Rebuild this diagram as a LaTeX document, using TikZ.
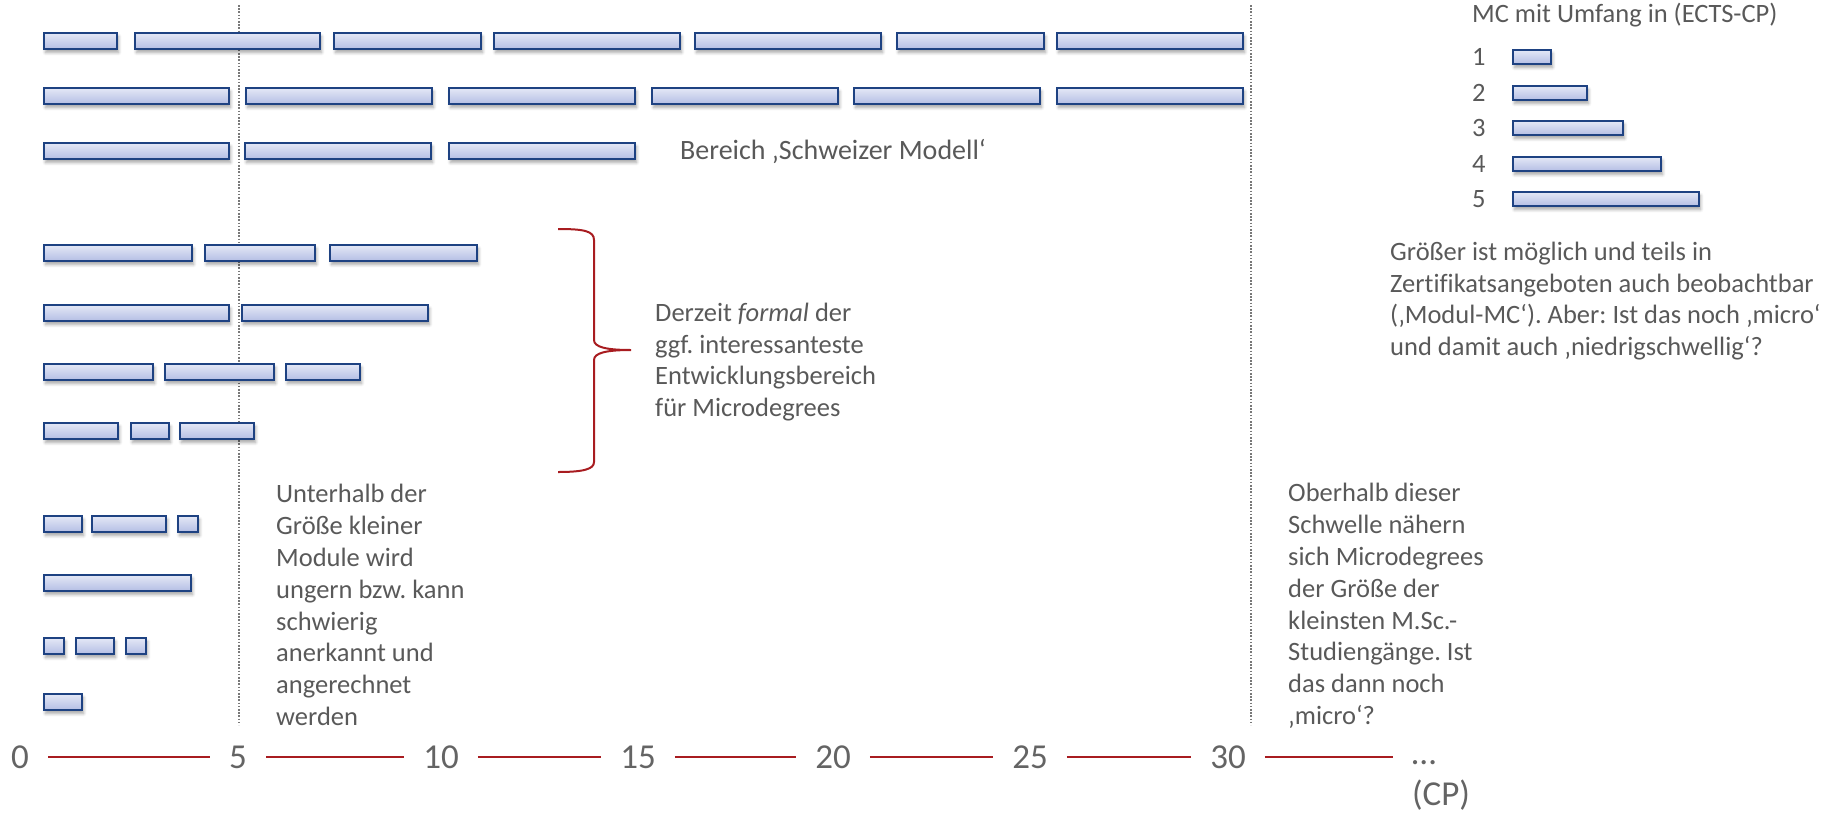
\documentclass[tikz,border=0pt]{standalone}
\usepackage{fontspec}
\setmainfont{Carlito}[Ligatures={TeX,NoCommon}]
\usetikzlibrary{shadows.blur}
\frenchspacing
\definecolor{txtgray}{RGB}{89,89,89}
\definecolor{axgray}{RGB}{100,100,100}
\definecolor{barline}{RGB}{30,66,130}
\definecolor{bartop}{RGB}{228,232,246}
\definecolor{barbot}{RGB}{180,190,228}
\definecolor{bracered}{RGB}{168,28,32}
\definecolor{dotgray}{RGB}{120,120,120}
\tikzset{
  mcbar/.style={draw=barline, line width=1.8pt, top color=bartop, bottom color=barbot, inner sep=0pt,
    blur shadow={shadow xshift=1.5pt, shadow yshift=-3.5pt, shadow blur radius=3pt, shadow blur steps=6, shadow opacity=35}},
  txt/.style={text=txtgray, font=\fontsize{26.5}{31.8}\selectfont, inner sep=0pt, align=left},
  axlbl/.style={text=axgray, font=\fontsize{35}{42}\selectfont, inner ysep=0pt, inner xsep=19pt},
  axline/.style={draw=bracered, line width=2.4pt},
  dotline/.style={draw=dotgray, line width=1.8pt, dash pattern=on 1.6pt off 1.6pt},
  bracestyle/.style={draw=bracered, line width=2pt}
}
\newcommand{\mcb}[4]{\node[mcbar, minimum width=\dimexpr #3pt-#2pt-1.8pt\relax, minimum height=16.2pt] (#1) at ({(#2+#3)/2},#4) {};}
\newcommand{\mcl}[4]{\node[mcbar, minimum width=\dimexpr #3pt-#2pt-1.8pt\relax, minimum height=14.2pt] (#1) at ({(#2+#3)/2},#4) {};}
\begin{document}
\begin{tikzpicture}[x=1pt,y=-1pt]
\useasboundingbox (0,0) rectangle (1827,812);
% dotted thresholds
\draw[dotline] (239,5) -- (239,725);
\draw[dotline] (1251,5) -- (1251,725);
% row 1
\mcb{ra1}{43}{118}{41}\mcb{ra2}{134}{321}{41}\mcb{ra3}{333}{482}{41}\mcb{ra4}{493}{681}{41}
\mcb{ra5}{694}{882}{41}\mcb{ra6}{896}{1045}{41}\mcb{ra7}{1056}{1244}{41}
% row 2
\mcb{rb1}{43}{230}{96}\mcb{rb2}{245}{433}{96}\mcb{rb3}{448}{636}{96}\mcb{rb4}{651}{839}{96}
\mcb{rb5}{853}{1041}{96}\mcb{rb6}{1056}{1244}{96}
% row 3
\mcb{rc1}{43}{230}{151}\mcb{rc2}{244}{432}{151}\mcb{rc3}{448}{636}{151}
% row 4
\mcb{rd1}{43}{193}{253}\mcb{rd2}{204}{316}{253}\mcb{rd3}{329}{478}{253}
% row 5
\mcb{re1}{43}{230}{313}\mcb{re2}{241}{429}{313}
% row 6
\mcb{rf1}{43}{154}{372}\mcb{rf2}{164}{275}{372}\mcb{rf3}{285}{361}{372}
% row 7
\mcb{rg1}{43}{119}{431}\mcb{rg2}{130}{170}{431}\mcb{rg3}{179}{255}{431}
% row 8
\mcb{rh1}{43}{83}{524}\mcb{rh2}{91}{167}{524}\mcb{rh3}{177}{199}{524}
% row 9
\mcb{ri1}{43}{192}{583}
% row 10
\mcb{rj1}{43}{65}{646}\mcb{rj2}{75}{115}{646}\mcb{rj3}{125}{147}{646}
% row 11
\mcb{rk1}{43}{83}{702}
% legend
\node[txt, anchor=west] (mctitle) at (1472,15) {MC mit Umfang in (ECTS-CP)};
\mcl{lg1}{1512}{1552}{57}\mcl{lg2}{1512}{1588}{93}\mcl{lg3}{1512}{1624}{128}\mcl{lg4}{1512}{1662}{164}\mcl{lg5}{1512}{1700}{199}
\node[txt, anchor=west] (n1) at (1472,57) {1};
\node[txt, anchor=west] (n2) at (1472,93) {2};
\node[txt, anchor=west] (n3) at (1472,128) {3};
\node[txt, anchor=west] (n4) at (1472,164) {4};
\node[txt, anchor=west] (n5) at (1472,199) {5};
\node[txt, anchor=west] (groesser) at (1390,301) {Größer ist möglich und teils in\\Zertifikatsangeboten auch beobachtbar\\(‚Modul-MC‘). Aber: Ist das noch ‚micro‘\\und damit auch ‚niedrigschwellig‘?};
% texts
\node[txt, anchor=west, font=\fontsize{28}{34}\selectfont] (schweiz) at (680,151) {Bereich ‚Schweizer Modell‘};
\node[txt, anchor=west] (derzeit) at (655,362) {Derzeit \textit{formal} der\\ggf. interessanteste\\Entwicklungsbereich\\für Microdegrees};
\node[txt, anchor=west] (unter) at (276,605) {Unterhalb der\\Größe kleiner\\Module wird\\ungern bzw. kann\\schwierig\\anerkannt und\\angerechnet\\werden};
\node[txt, anchor=west] (ober) at (1288,606) {Oberhalb dieser\\Schwelle nähern\\sich Microdegrees\\der Größe der\\kleinsten M.Sc.-\\Studiengänge. Ist\\das dann noch\\‚micro‘?};
% brace
\draw[bracestyle] (558,229) .. controls (584,229) and (594,231) .. (594,240) -- (594,340)
  .. controls (594,347) and (606,350) .. (631,350) .. controls (606,350) and (594,353) .. (594,360)
  -- (594,462) .. controls (594,469) and (584,472) .. (558,472);
% axis
\node[axlbl] (l0) at (20,757) {0};
\node[axlbl] (l5) at (238,757) {5};
\node[axlbl] (l10) at (441,757) {10};
\node[axlbl] (l15) at (638,757) {15};
\node[axlbl] (l20) at (833,757) {20};
\node[axlbl] (l25) at (1030,757) {25};
\node[axlbl] (l30) at (1228,757) {30};
\node[axlbl, anchor=base] (ldots) at (1424,764) {…};
\node[axlbl, anchor=base] (cp) at (1441,805) {(CP)};
\draw[axline] (l0) -- (l5);
\draw[axline] (l5) -- (l10);
\draw[axline] (l10) -- (l15);
\draw[axline] (l15) -- (l20);
\draw[axline] (l20) -- (l25);
\draw[axline] (l25) -- (l30);
\draw[axline] (l30.east) -- (l30.east -| ldots.west);
\end{tikzpicture}
\end{document}
